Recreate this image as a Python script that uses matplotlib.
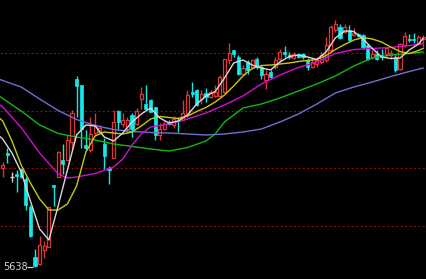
import matplotlib
matplotlib.use('Agg')
import matplotlib.pyplot as plt
import numpy as np

# candle data (oldest -> newest)
opens = [5836, 5866, 5818, 5824, 5833, 5814, 5758, 5658, 5643, 5671,
         5678, 5801, 5818, 5852, 5851, 5888, 6014, 6001, 5881, 5871,
         5905, 5908, 5884, 5835, 5855, 5949, 5924, 5914, 5941, 5924,
         5974, 5964, 5971, 5958, 5901, 5914, 5928, 5921, 5932, 5931,
         5941, 5987, 5991, 5974, 5986, 5978, 5979, 5979, 5988, 6052,
         6071, 6058, 6024, 6048, 6038, 6054, 6038, 6011, 6028, 6038,
         6054, 6068, 6062, 6056, 6064, 6064, 6051, 6038, 6044, 6048,
         6051, 6071, 6111, 6118, 6108, 6111, 6101, 6104, 6101, 6081,
         6058, 6064, 6062, 6064, 6061, 6058, 6033, 6081, 6094, 6094,
         6084, 6094]
highs = [5847, 5875, 5828, 5831, 5835, 5818, 5761, 5674, 5700, 5689,
         5758, 5802, 5869, 5884, 5901, 5952, 6019, 6001, 5911, 5937,
         5945, 5921, 5895, 5840, 5951, 5951, 5945, 5938, 5945, 5955,
         5998, 6001, 5973, 5958, 5925, 5929, 5931, 5939, 5938, 5971,
         5991, 6008, 5993, 5991, 5995, 5991, 6001, 6021, 6054, 6086,
         6072, 6061, 6041, 6051, 6054, 6058, 6041, 6031, 6031, 6058,
         6074, 6079, 6068, 6067, 6064, 6066, 6055, 6055, 6058, 6068,
         6098, 6121, 6132, 6124, 6124, 6121, 6115, 6105, 6104, 6084,
         6071, 6071, 6074, 6078, 6071, 6064, 6085, 6107, 6103, 6105,
         6101, 6101]
lows = [5817, 5845, 5808, 5788, 5815, 5752, 5698, 5638, 5641, 5655,
        5677, 5760, 5817, 5824, 5851, 5871, 5938, 5875, 5871, 5867,
        5901, 5905, 5833, 5803, 5855, 5911, 5918, 5905, 5898, 5921,
        5954, 5954, 5947, 5891, 5891, 5911, 5921, 5915, 5908, 5931,
        5938, 5978, 5959, 5964, 5968, 5975, 5978, 5978, 5985, 6044,
        6058, 6021, 6021, 6024, 6034, 6034, 6014, 5994, 6015, 6034,
        6048, 6058, 6054, 6054, 6056, 6054, 6031, 6035, 6038, 6044,
        6048, 6068, 6108, 6094, 6105, 6089, 6099, 6097, 6074, 6051,
        6054, 6051, 6051, 6058, 6054, 6028, 6031, 6077, 6088, 6086,
        6083, 6078]
closes = [5841, 5862, 5818, 5819, 5817, 5761, 5699, 5640, 5681, 5679,
          5757, 5797, 5868, 5844, 5891, 5946, 5999, 5914, 5876, 5903,
          5921, 5915, 5859, 5831, 5928, 5928, 5932, 5931, 5914, 5950,
          5984, 5954, 5948, 5901, 5914, 5924, 5923, 5934, 5930, 5946,
          5981, 5984, 5961, 5984, 5977, 5988, 5988, 6018, 6054, 6066,
          6064, 6024, 6036, 6031, 6052, 6038, 6021, 6024, 6018, 6051,
          6068, 6064, 6058, 6063, 6058, 6058, 6038, 6048, 6051, 6061,
          6081, 6118, 6124, 6096, 6118, 6091, 6106, 6099, 6078, 6054,
          6064, 6054, 6058, 6076, 6066, 6031, 6083, 6099, 6091, 6091,
          6098, 6098]

# moving averages (candle index, price)
ma5_idx = [-0.6, 0, 2, 4, 6, 8, 10, 12, 14, 16, 18, 20, 22, 24, 26, 28, 30, 32,
           34, 36, 38, 40, 42, 44, 46, 48, 50, 52, 54, 56, 58, 60, 62, 64, 66,
           68, 70, 72, 74, 76, 78, 80, 82, 84, 86, 88, 90, 91]
ma5 = [5898, 5893, 5865, 5827, 5769, 5713, 5691, 5759, 5831, 5901, 5921, 5919,
       5897, 5889, 5905, 5927, 5943, 5955, 5935, 5925, 5929, 5941, 5963, 5979,
       5988, 6015, 6045, 6051, 6041, 6035, 6031, 6047, 6058, 6061, 6057, 6052,
       6067, 6095, 6109, 6108, 6093, 6074, 6057, 6054, 6055, 6071, 6083, 6094]
ma10_idx = [-0.6, 0, 2, 4, 6, 8, 10, 12, 14, 16, 18, 20, 22, 24, 26, 28, 30, 32,
            34, 36, 38, 40, 42, 44, 46, 48, 50, 52, 54, 56, 58, 60, 62, 64, 66,
            68, 70, 72, 74, 76, 78, 80, 82, 84, 86, 88, 90, 91]
ma10 = [5934, 5929, 5889, 5841, 5805, 5773, 5751, 5751, 5763, 5799, 5867, 5899,
        5907, 5905, 5903, 5907, 5919, 5933, 5938, 5936, 5934, 5939, 5948, 5956,
        5967, 5981, 5999, 6019, 6034, 6040, 6041, 6043, 6045, 6048, 6050, 6052,
        6060, 6072, 6082, 6091, 6096, 6093, 6087, 6077, 6068, 6064, 6070, 6074]
ma20_idx = [-0.6, 0, 4, 8, 12, 14, 16, 20, 24, 26, 28, 30, 32, 36, 40, 44, 48,
            52, 56, 60, 64, 68, 72, 76, 80, 84, 88, 91]
ma20 = [5961, 5957, 5916, 5865, 5823, 5815, 5817, 5824, 5837, 5853, 5881, 5903,
        5917, 5923, 5933, 5945, 5961, 5979, 6003, 6021, 6036, 6047, 6064, 6072,
        6074, 6076, 6080, 6084]
ma40_idx = [-0.6, 0, 4, 8, 12, 16, 20, 24, 28, 32, 36, 40, 44, 46, 48, 52, 56,
            60, 64, 68, 72, 76, 80, 84, 88, 91]
ma40 = [5978, 5974, 5949, 5921, 5904, 5897, 5891, 5883, 5878, 5873, 5869, 5876,
        5889, 5903, 5927, 5955, 5963, 5975, 5989, 6003, 6019, 6039, 6055, 6061,
        6064, 6067]
ma60_idx = [-0.6, 0, 4, 8, 12, 16, 20, 24, 28, 32, 36, 40, 44, 48, 52, 56, 60,
            64, 68, 72, 76, 80, 84, 88, 91]
ma60 = [6012, 6010, 5997, 5973, 5950, 5932, 5920, 5912, 5908, 5906, 5905, 5903,
        5901, 5903, 5907, 5913, 5927, 5943, 5963, 5985, 5997, 6007, 6018, 6028,
        6035]

grid_levels = [6065, 5950, 5835, 5720]

RED = '#e0363a'
CYAN = '#14e8e8'
LABEL = '#d0d4dc'

fig = plt.figure(figsize=(4.27, 2.79), dpi=100, facecolor='black')
ax = fig.add_axes([0, 0, 1, 1])
ax.set_facecolor('black')

for lvl in grid_levels:
    ax.axhline(lvl, color='#8a0c0c', lw=0.8, ls=(0, (2, 2)), zorder=1)

x = np.arange(len(opens))
o = np.array(opens)
c = np.array(closes)
h = np.array(highs)
l = np.array(lows)
up = c > o
down = c < o
flat = c == o

# wicks
cols = np.where(up, RED, np.where(down, CYAN, '#d0d0d0'))
ax.vlines(x, l, h, colors=cols, lw=1.0, zorder=2)

# bodies: red hollow, cyan filled
w = 0.68
ax.bar(x[up], (c - o)[up], bottom=o[up], width=w, facecolor='black',
       edgecolor=RED, lw=0.9, zorder=3)
ax.bar(x[down], (o - c)[down], bottom=c[down], width=w, color=CYAN,
       edgecolor=CYAN, lw=0.5, zorder=3)
ax.hlines(o[flat], x[flat] - w / 2, x[flat] + w / 2, colors='#d0d0d0',
          lw=1.0, zorder=3)

# moving averages
ax.plot(ma60_idx, ma60, color='#6f6fd8', lw=1.0, zorder=4)
ax.plot(ma40_idx, ma40, color='#12b812', lw=1.0, zorder=4)
ax.plot(ma20_idx, ma20, color='#d010d0', lw=1.0, zorder=4)
ax.plot(ma10_idx, ma10, color='#c8c814', lw=1.0, zorder=4)
ax.plot(ma5_idx, ma5, color='#d8d8d8', lw=1.0, zorder=4)

# lowest price marker
i_low = int(np.argmin(l))
ax.text(0.0, l[i_low], f'{l[i_low]:.0f}', color=LABEL, fontsize=7,
        ha='left', va='center', zorder=5)
ax.hlines(l[i_low], i_low - 1.7, i_low - 0.4, colors=LABEL, lw=0.9, zorder=5)

ax.set_xlim(-0.584, 91.84)
ax.set_ylim(5613, 6171)
ax.axis('off')

fig.savefig('out.png', dpi=100, facecolor='black')
